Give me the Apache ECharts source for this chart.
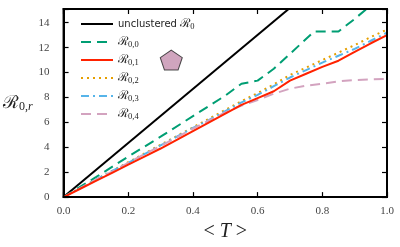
<!DOCTYPE html>
<html><head><meta charset="utf-8">
<script src="https://cdn.jsdelivr.net/npm/echarts@6/dist/echarts.min.js"></script>
<style>html,body{margin:0;padding:0;background:#fff}#c{width:400px;height:247px}</style>
</head><body><div id="c"></div>
<script>
// ---- data ----
const T = [0,0.05,0.1,0.15,0.2,0.25,0.3,0.35,0.4,0.45,0.5,0.55,0.6,0.65,0.7,0.75,0.8,0.85,0.9,0.95,1.0];
const R01 = [0,0.65,1.3,1.95,2.6,3.25,3.9,4.6,5.3,6.0,6.7,7.4,7.95,8.5,9.35,9.9,10.45,10.95,11.65,12.35,13.0];
const R02 = [0,0.7,1.4,2.1,2.8,3.5,4.2,4.9,5.6,6.3,7.0,7.7,8.35,9.05,9.8,10.4,11.0,11.6,12.2,12.85,13.45];
const R03 = [0,0.7,1.4,2.1,2.75,3.45,4.15,4.85,5.55,6.2,6.9,7.6,8.2,8.9,9.6,10.2,10.8,11.35,11.9,12.55,13.2];
const R04 = [0,0.7,1.4,2.05,2.75,3.45,4.1,4.8,5.5,6.15,6.8,7.35,7.8,8.3,8.7,8.95,9.1,9.3,9.4,9.45,9.5];
const T00 = [0,0.1,0.2,0.3,0.4,0.5,0.55,0.6,0.65,0.7,0.775,0.85,0.9,0.95,1.0];
const R00 = [0,1.6,3.25,4.85,6.5,8.15,9.1,9.35,10.3,11.5,13.3,13.3,14.3,15.4,16.4];
const Tunc = [0,1.0];
const Runc = [0,21.7];
const marker = [[0.333,11.0]];
const xTicks = ['0.0','0.2','0.4','0.6','0.8','1.0'];
const yTicks = ['0','2','4','6','8','10','12','14'];

const zip = (a,b)=>a.map((x,i)=>[x,b[i]]);
const names = ['unc','r0','r1','r2','r3','r4'];
const labels = {
  unc:'{t|unclustered }{r|ℛ}{s|0}',
  r0:'{r|ℛ}{s|0,0}', r1:'{r|ℛ}{s|0,1}', r2:'{r|ℛ}{s|0,2}', r3:'{r|ℛ}{s|0,3}', r4:'{r|ℛ}{s|0,4}'
};
const serif = 'Liberation Serif';
const axLine = ()=>({show:true,onZero:false,lineStyle:{color:'#000',width:2}});
const axTick = ()=>({show:true,inside:true,length:5,lineStyle:{color:'#000',width:1.2}});
const chart = echarts.init(document.getElementById('c'));
const line = (name,data,color,type,w)=>({name,type:'line',data,showSymbol:false,symbol:'none',
  lineStyle:{color,width:w||2,type},itemStyle:{color},animation:false,clip:true});
chart.setOption({
  animation:false,
  grid:{left:63,right:13,top:9,bottom:39,show:true,borderColor:'#000',borderWidth:2,backgroundColor:'transparent',z:5},
  xAxis:[
    {type:'value',min:0,max:1,interval:0.2,position:'bottom',axisLine:axLine(),axisTick:axTick(),splitLine:{show:false},
      name:'{m|<}{i| T }{m|>}',nameLocation:'middle',nameGap:21,
      nameTextStyle:{rich:{m:{fontFamily:serif,fontSize:20,color:'#222'},i:{fontFamily:serif,fontStyle:'italic',fontSize:20,color:'#222'}}},
      axisLabel:{color:'#444',fontFamily:serif,fontSize:11,margin:9,formatter:v=>xTicks[Math.round(v/0.2)]}},
    {type:'value',min:0,max:1,interval:0.2,position:'top',axisLine:axLine(),axisTick:axTick(),splitLine:{show:false},
      axisLabel:{show:true,color:'rgba(0,0,0,0)',fontSize:1,margin:0}}
  ],
  yAxis:[
    {type:'value',min:0,max:15.1,interval:2,position:'left',axisLine:axLine(),axisTick:axTick(),splitLine:{show:false},
      name:'{r|ℛ}{s|0,}{si|r}',nameLocation:'middle',nameRotate:0,nameGap:18,
      nameTextStyle:{rich:{r:{fontFamily:'DejaVu Serif',fontSize:18,color:'#222',lineHeight:20},
        s:{fontFamily:serif,fontSize:12,color:'#222',verticalAlign:'bottom',lineHeight:14},
        si:{fontFamily:serif,fontStyle:'italic',fontSize:12,color:'#222',verticalAlign:'bottom',lineHeight:14}}},
      axisLabel:{color:'#444',fontFamily:serif,fontSize:11,margin:14,formatter:v=>yTicks[Math.round(v/2)]||''}},
    {type:'value',min:0,max:15.1,interval:2,position:'right',axisLine:axLine(),axisTick:axTick(),splitLine:{show:false},
      axisLabel:{show:false}}
  ],
  legend:{
    orient:'vertical',left:80,top:18,padding:0,itemWidth:32,itemHeight:12,itemGap:5,
    data:names,
    itemStyle:{opacity:0},
    formatter:n=>labels[n],
    textStyle:{color:'#222',rich:{
      t:{fontFamily:'DejaVu Sans',fontSize:10,color:'#222'},
      r:{fontFamily:'DejaVu Serif',fontSize:12,color:'#222',lineHeight:14},
      s:{fontFamily:serif,fontSize:8.5,color:'#222',verticalAlign:'bottom',lineHeight:11}
    }}
  },
  series:[
    line('unc',zip(Tunc,Runc),'#000','solid',2),
    line('r0',zip(T00,R00),'#009e73',[10,6],2),
    line('r2',zip(T,R02),'#e69f00',[2,4],2),
    line('r3',zip(T,R03),'#56b4e9',[8,4,2,4],2),
    line('r4',zip(T,R04),'#d3a3bf',[10,6],2),
    line('r1',zip(T,R01),'#ff2200','solid',2),
    {type:'scatter',xAxisIndex:1,yAxisIndex:1,data:marker,symbol:'path://M50,0 L97.6,34.5 L79.4,90.5 L20.6,90.5 L2.4,34.5 Z',symbolSize:[22,20],
      itemStyle:{color:'#c48fae',borderColor:'#222',borderWidth:1},silent:true,animation:false}
  ]
});
</script></body></html>
